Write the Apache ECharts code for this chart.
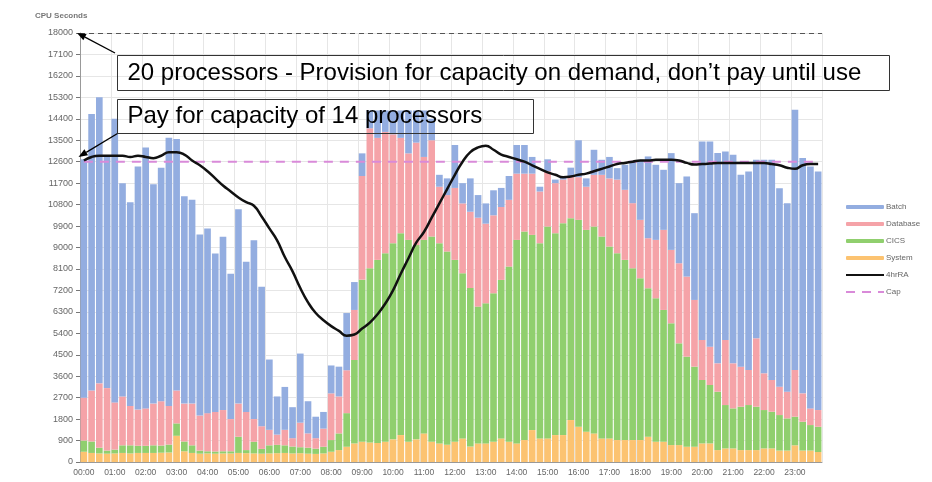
<!DOCTYPE html>
<html>
<head>
<meta charset="utf-8">
<title>CPU Seconds</title>
<script src="https://cdn.jsdelivr.net/npm/echarts@6/dist/echarts.min.js"></script>
<style>
  html, body { margin: 0; padding: 0; background: #fff; }
  #chart { width: 932px; height: 482px; }
</style>
</head>
<body>
<div id="chart"></div>
<script>
const hours = ["00:00", "01:00", "02:00", "03:00", "04:00", "05:00", "06:00", "07:00",
  "08:00", "09:00", "10:00", "11:00", "12:00", "13:00", "14:00", "15:00",
  "16:00", "17:00", "18:00", "19:00", "20:00", "21:00", "22:00", "23:00"];
const quarters = ["00", "15", "30", "45"];
const timeLabels = hours.flatMap((h) => quarters.map((q) => h.slice(0, 3) + q));

// CPU seconds per 15 minute interval, stacked bottom to top
const system = [
  430, 380, 360, 350, 360, 380, 360, 380, 380, 380, 390, 400, 1100, 450, 380, 350,
  360, 350, 360, 360, 380, 370, 360, 350, 360, 370, 380, 360, 370, 350, 340, 360,
  430, 500, 640, 780, 850, 820, 800, 850, 950, 1130, 850, 950, 1200, 850, 780, 720,
  850, 990, 650, 780, 780, 850, 990, 850, 780, 920, 1340, 990, 990, 1130, 1130, 1760,
  1480, 1270, 1200, 990, 990, 920, 920, 920, 920, 1060, 850, 850, 710, 710, 640, 640,
  780, 780, 500, 570, 570, 500, 500, 500, 570, 570, 480, 480, 700, 480, 480, 420
];
const cics = [
  470, 480, 240, 130, 160, 320, 340, 300, 300, 320, 300, 330, 520, 410, 320, 130,
  90, 90, 90, 90, 680, 130, 490, 200, 340, 350, 320, 290, 250, 250, 220, 280,
  490, 700, 1410, 3500, 6800, 7310, 7680, 7910, 8230, 8470, 8470, 8150, 8120, 8610, 8400, 8110,
  7630, 6930, 6650, 5740, 5880, 6230, 6650, 7350, 8540, 8750, 8190, 8190, 8890, 8470, 8890, 8470,
  8680, 8470, 8680, 8470, 8050, 7840, 7560, 7210, 6790, 6230, 6020, 5530, 5110, 4270, 3780, 3360,
  2660, 2450, 2450, 1820, 1680, 1820, 1890, 1820, 1610, 1540, 1490, 1350, 1200, 1210, 1070, 1060
];
const database = [
  1800, 2140, 2700, 2620, 1980, 2050, 1650, 1520, 1570, 1750, 1860, 1620, 1380, 1590, 1750, 1470,
  1600, 1660, 1730, 1350, 1390, 1600, 950, 950, 650, 430, 650, 350, 1030, 600, 440, 760,
  1960, 1550, 1800, 2100, 4350, 5870, 5120, 5090, 4570, 4000, 3630, 4300, 3480, 4040, 2370, 2370,
  3020, 2930, 3200, 3730, 3340, 3270, 3060, 2800, 2780, 2430, 2570, 2170, 2320, 2100, 1830, 1770,
  1790, 1810, 2170, 2590, 2860, 3090, 2940, 2730, 2450, 2100, 2450, 3360, 3080, 3360, 3360, 2800,
  1680, 1610, 1190, 2730, 1890, 1680, 1470, 2870, 1540, 1330, 1190, 1120, 1960, 1190, 700, 700
];
const batch = [
  10000, 11600, 12000, 9700, 11900, 8950, 8550, 10200, 10950, 9200, 9800, 11250, 10550, 8700, 8550, 7600,
  7750, 6650, 7270, 6100, 8150, 6300, 7500, 5850, 2950, 1600, 1800, 1300, 2900, 1350, 900, 700,
  1170, 1250, 2400, 1170, 950, 750, 1150, 900, 1000, 1150, 1800, 1350, 1950, 900, 500, 700,
  1800, 850, 1400, 950, 850, 1050, 800, 1000, 1200, 1200, 700, 200, 500, 150, 150, 350,
  1550, 350, 1050, 630, 900, 480, 1050, 1750, 2520, 3430, 3150, 2520, 4060, 3360, 4200, 3640,
  8330, 8610, 8820, 7910, 8750, 8050, 8330, 7490, 8960, 9240, 8330, 7910, 10920, 9870, 10150, 10010
];
// 4 hour rolling average
const rollingAvg = [
  12650, 12800, 12850, 12850, 12850, 12850, 12800, 12850, 12800, 12750, 12850, 13000, 13000, 12900, 12650, 12450,
  12200, 11900, 11600, 11350, 11100, 10900, 10750, 10300, 9800, 9300, 8600, 8000, 7300, 6700, 6250, 5950,
  5700, 5500, 5300, 5350, 5600, 5850, 6200, 6650, 7200, 7900, 8550, 9200, 9650, 10250, 10850, 11450,
  12050, 12600, 13000, 13200, 13270, 13100, 12900, 12800, 12700, 12600, 12450, 12300, 12150, 12050, 11950, 11980,
  12050, 12100, 12200, 12300, 12400, 12500, 12550, 12600, 12650, 12650, 12680, 12680, 12680, 12650, 12550, 12480,
  12500, 12520, 12550, 12550, 12550, 12550, 12550, 12550, 12550, 12500, 12450, 12350, 12300, 12450, 12500, 12500
];
const capLevel = 12600;      // 14 processors
const provisionLevel = 18000; // 20 processors
const capData = timeLabels.map(() => capLevel);

const colors = {
  batch: "#93ade0",
  database: "#f5a3a8",
  cics: "#90cf6e",
  system: "#fcc371"
};

function arrow(x1, y1, x2, y2) {
  const len = Math.hypot(x2 - x1, y2 - y1);
  const ux = (x2 - x1) / len;
  const uy = (y2 - y1) / len;
  const bx = x2 - ux * 9;
  const by = y2 - uy * 9;
  return [
    { type: "line", z: 100, shape: { x1, y1, x2: bx, y2: by }, style: { stroke: "#000", lineWidth: 1.3 } },
    {
      type: "polygon", z: 100,
      shape: { points: [[x2, y2], [bx - uy * 3.5, by + ux * 3.5], [bx + uy * 3.5, by - ux * 3.5]] },
      style: { fill: "#000" }
    }
  ];
}

function callout(x, y, w, h, text) {
  return [
    { type: "rect", z: 100, shape: { x, y, width: w, height: h }, style: { fill: "none", stroke: "#333", lineWidth: 1 } },
    {
      type: "text", z: 101, x: x + 10, y: y + h / 2,
      style: { text, fill: "#000", font: "24px 'Liberation Sans', Arial, sans-serif", verticalAlign: "middle" }
    }
  ];
}

const barSeries = (name, data, color) => ({
  name,
  type: "bar",
  stack: "cpu",
  data,
  barCategoryGap: "14%",
  itemStyle: { color },
  emphasis: { disabled: true }
});

const chart = echarts.init(document.getElementById("chart"));
chart.setOption({
  animation: false,
  textStyle: { fontFamily: "'Liberation Sans', Arial, sans-serif" },
  title: {
    text: "CPU Seconds",
    left: 30,
    top: 7,
    textStyle: { fontSize: 8, fontWeight: "bold", color: "#777" }
  },
  grid: { left: 80, right: 110, top: 33, bottom: 20 },
  legend: {
    orient: "vertical",
    left: 845,
    top: 202,
    itemWidth: 38,
    itemHeight: 4,
    itemGap: 7,
    padding: 0,
    textStyle: { fontSize: 8, color: "#666", lineHeight: 10, padding: [0, 0, 0, -3] },
    data: [
      "Batch", "Database", "CICS", "System",
      { name: "4hrRA", itemStyle: { opacity: 0 } },
      { name: "Cap", itemStyle: { opacity: 0 } }
    ]
  },
  xAxis: {
    type: "category",
    data: timeLabels,
    boundaryGap: true,
    axisLine: { lineStyle: { color: "#999" } },
    axisTick: { interval: 3, length: 4, lineStyle: { color: "#777" } },
    axisLabel: { interval: 3, fontSize: 8.5, color: "#666", margin: 6 },
    splitLine: { show: true, interval: 3, lineStyle: { color: "#e6e6e6" } }
  },
  yAxis: {
    type: "value",
    min: 0,
    max: 18000,
    interval: 900,
    axisLine: { show: true, lineStyle: { color: "#999" } },
    axisTick: { show: true, length: 4, lineStyle: { color: "#777" } },
    axisLabel: { fontSize: 9, color: "#666", margin: 7, formatter: (v) => String(v) },
    splitLine: { lineStyle: { color: "#e6e6e6" } }
  },
  series: [
    barSeries("System", system, colors.system),
    barSeries("CICS", cics, colors.cics),
    barSeries("Database", database, colors.database),
    barSeries("Batch", batch, colors.batch),
    {
      name: "Cap",
      type: "line",
      data: capData,
      symbol: "none",
      z: 5,
      lineStyle: { color: "#d98ad9", width: 2, type: [9, 7] },
      itemStyle: { color: "#d98ad9" },
      markLine: {
        silent: true,
        symbol: "none",
        label: { show: false },
        lineStyle: { color: "#555", width: 1, type: [5, 4] },
        data: [{ yAxis: provisionLevel }]
      }
    },
    {
      name: "4hrRA",
      type: "line",
      data: rollingAvg,
      smooth: true,
      symbol: "none",
      z: 6,
      lineStyle: { color: "#111", width: 2.5 },
      itemStyle: { color: "#111" }
    }
  ],
  graphic: [
    ...callout(117.5, 55.5, 772, 35, "20 processors - Provision for capacity on demand, don\u2019t pay until use"),
    ...callout(117.5, 99.5, 416, 34, "Pay for capacity of 14 processors"),
    ...arrow(115, 53, 77, 33),
    ...arrow(117.5, 133.5, 78.5, 157)
  ]
});
</script>
</body>
</html>
